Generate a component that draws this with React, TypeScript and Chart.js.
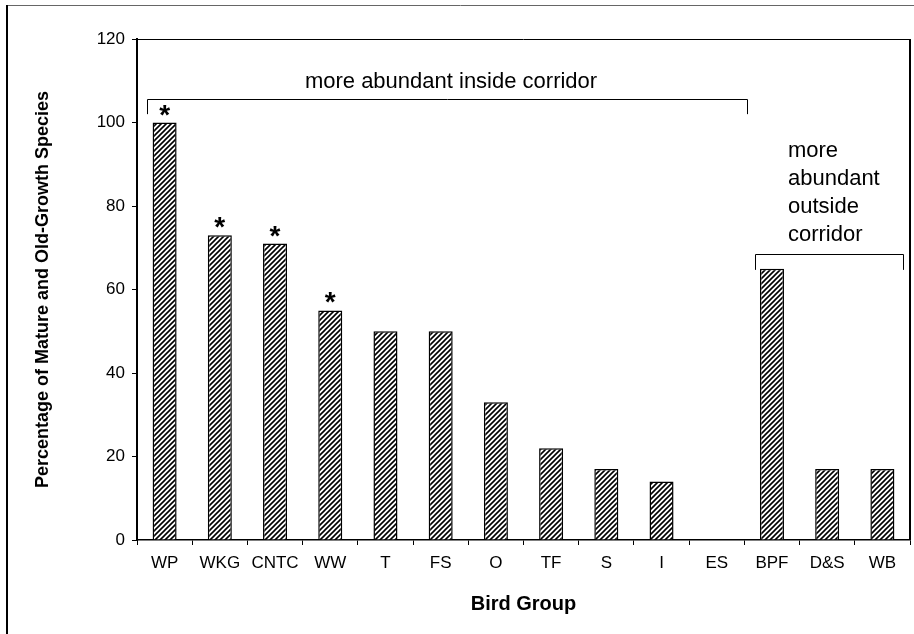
import React, { useEffect, useRef } from "react";
import { Chart, registerables } from "chart.js";

Chart.register(...registerables);

const categories = ["WP", "WKG", "CNTC", "WW", "T", "FS", "O", "TF", "S", "I", "ES", "BPF", "D&S", "WB"];
const percentages = [100, 73, 71, 55, 50, 50, 33, 22, 17, 14, 0, 65, 17, 17];
const significant = [true, true, true, true, false, false, false, false, false, false, false, false, false, false];
const yMin = 0;
const yMax = 120;
const yStep = 20;
const insideLabel = "more abundant inside corridor";
const outsideLabel = ["more", "abundant", "outside", "corridor"];
const xTitle = "Bird Group";
const yTitle = "Percentage of Mature and Old-Growth Species";

const FONT = "Arial, 'Liberation Sans', sans-serif";

function makePattern(): CanvasPattern | string {
  const c = document.createElement("canvas");
  const s = 5;
  c.width = s;
  c.height = s;
  const g = c.getContext("2d");
  if (!g) return "#555";
  g.fillStyle = "#fff";
  g.fillRect(0, 0, s, s);
  g.strokeStyle = "#000";
  g.lineWidth = 1.6;
  g.beginPath();
  g.moveTo(-1, s + 1);
  g.lineTo(s + 1, -1);
  g.moveTo(-2, 2);
  g.lineTo(2, -2);
  g.moveTo(s - 2, s + 2);
  g.lineTo(s + 2, s - 2);
  g.stroke();
  const p = g.createPattern(c, "repeat");
  return p || "#555";
}

const annotations = {
  id: "annotations",
  afterDraw(chart: any) {
    const ctx = chart.ctx;
    const area = chart.chartArea;
    const xs = chart.scales.x;
    const ys = chart.scales.y;
    const cat = (xs.right - xs.left) / categories.length;
    ctx.save();

    // outer frame
    ctx.strokeStyle = "#666";
    ctx.lineWidth = 1;
    ctx.beginPath();
    ctx.moveTo(7, 5.5);
    ctx.lineTo(chart.width, 5.5);
    ctx.stroke();
    ctx.strokeStyle = "#000";
    ctx.lineWidth = 2;
    ctx.beginPath();
    ctx.moveTo(7, 5);
    ctx.lineTo(7, chart.height);
    ctx.stroke();

    // plot box top / right
    ctx.strokeStyle = "#000";
    ctx.lineWidth = 1;
    ctx.beginPath();
    ctx.moveTo(area.left, Math.round(area.top) + 0.5);
    ctx.lineTo(area.right, Math.round(area.top) + 0.5);
    ctx.stroke();
    ctx.lineWidth = 2;
    ctx.beginPath();
    ctx.moveTo(area.right, area.top);
    ctx.lineTo(area.right, area.bottom);
    ctx.stroke();

    // asterisks
    const meta = chart.getDatasetMeta(0);
    ctx.fillStyle = "#000";
    ctx.font = "bold 28px " + FONT;
    ctx.textAlign = "center";
    ctx.textBaseline = "alphabetic";
    meta.data.forEach((bar: any, i: number) => {
      if (significant[i]) ctx.fillText("*", bar.x, bar.y + 1);
    });

    // bracket helper
    const bracket = (x1: number, x2: number, yTop: number, yEnd: number) => {
      ctx.strokeStyle = "#000";
      ctx.lineWidth = 1;
      ctx.beginPath();
      ctx.moveTo(Math.round(x1) + 0.5, yEnd);
      ctx.lineTo(Math.round(x1) + 0.5, Math.round(yTop) + 0.5);
      ctx.lineTo(Math.round(x2) + 0.5, Math.round(yTop) + 0.5);
      ctx.lineTo(Math.round(x2) + 0.5, yEnd);
      ctx.stroke();
    };

    // inside bracket
    const b1l = xs.getPixelForValue(0) - 0.32 * cat;
    const b1r = xs.getPixelForValue(10) + 0.55 * cat;
    bracket(b1l, b1r, ys.getPixelForValue(105.6), ys.getPixelForValue(102));
    ctx.font = "22px " + FONT;
    ctx.textAlign = "center";
    ctx.fillText(insideLabel, (b1l + b1r) / 2 + 4, ys.getPixelForValue(108.3));

    // outside bracket
    const b2l = xs.getPixelForValue(11) - 0.3 * cat;
    const b2r = xs.getPixelForValue(13) + 0.38 * cat;
    bracket(b2l, b2r, ys.getPixelForValue(68.5), ys.getPixelForValue(64.7));
    ctx.textAlign = "left";
    const tx = xs.getPixelForValue(11) + 0.29 * cat;
    const ty = ys.getPixelForValue(91.7);
    outsideLabel.forEach((line, i) => ctx.fillText(line, tx, ty + i * 28));

    ctx.restore();
  },
};

export default function App() {
  const ref = useRef<HTMLCanvasElement | null>(null);
  useEffect(() => {
    if (!ref.current) return;
    const pattern = makePattern();
    const chart = new Chart(ref.current, {
      type: "bar",
      data: {
        labels: categories,
        datasets: [
          {
            data: percentages,
            backgroundColor: pattern as any,
            borderColor: "#000",
            borderWidth: 1.5,
            barPercentage: 0.435,
            categoryPercentage: 1,
          },
        ],
      },
      options: {
        responsive: false,
        animation: false,
        layout: { padding: { left: 7, top: 39, right: 4, bottom: 0 } },
        plugins: { legend: { display: false }, tooltip: { enabled: false }, title: { display: false } },
        scales: {
          x: {
            afterFit: (s: any) => {
              s.height = 94;
            },
            grid: { display: true, drawOnChartArea: false, drawTicks: true, tickLength: 5, color: "#000", offset: true },
            border: { display: true, color: "#000", width: 1.5 },
            ticks: { color: "#000", font: { family: FONT, size: 17 }, padding: 8, maxRotation: 0, autoSkip: false },
            title: { display: true, text: xTitle, color: "#000", font: { family: FONT, size: 20, weight: "bold" }, padding: { top: 0, bottom: 18 } },
          },
          y: {
            min: yMin,
            max: yMax,
            afterFit: (s: any) => {
              s.width = 130;
            },
            ticks: { stepSize: yStep, color: "#000", font: { family: FONT, size: 17 }, padding: 7 },
            grid: { display: true, drawOnChartArea: false, drawTicks: true, tickLength: 5, color: "#000" },
            border: { display: true, color: "#000", width: 2 },
            title: { display: true, text: yTitle, color: "#000", font: { family: FONT, size: 18, weight: "bold" }, padding: { top: 25, bottom: 0 } },
          },
        },
      },
      plugins: [annotations],
    });
    return () => chart.destroy();
  }, []);
  return (
    <div style={{ position: "fixed", left: 0, top: 0, width: 914, height: 634, background: "#fff" }}>
      <canvas ref={ref} width={914} height={634} style={{ display: "block" }} />
    </div>
  );
}
